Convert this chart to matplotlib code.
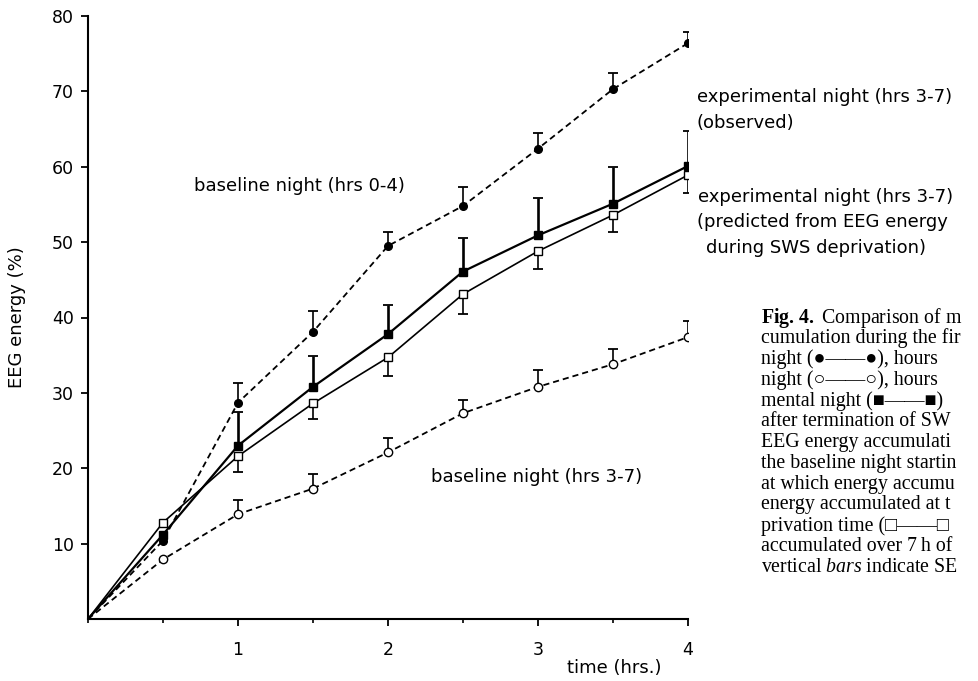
import matplotlib
matplotlib.use("Agg")
import matplotlib.pyplot as plt
from matplotlib.ticker import MultipleLocator

# cumulative EEG energy (%) vs time (hrs)
hours = [0, 0.5, 1, 1.5, 2, 2.5, 3, 3.5, 4]
base_0_4 = [0, 10.4, 28.7, 38.1, 49.5, 54.8, 62.4, 70.3, 76.4]
base_0_4_se = [0, 0, 2.6, 2.7, 1.9, 2.5, 2.1, 2.1, 1.5]
exp_obs = [0, 11.2, 23.0, 30.8, 37.8, 46.1, 50.9, 55.1, 60.1]
exp_obs_se = [0, 0, 4.4, 4.1, 3.8, 4.4, 4.9, 4.9, 4.7]
exp_pred = [0, 12.8, 21.6, 28.6, 34.7, 43.1, 48.8, 53.6, 58.9]
exp_pred_se = [0, 0, 2.1, 2.0, 2.4, 2.7, 2.4, 2.2, 2.4]
base_3_7 = [0, 7.9, 13.9, 17.3, 22.1, 27.3, 30.8, 33.8, 37.4]
base_3_7_se = [0, 0, 1.9, 1.9, 1.9, 1.8, 2.2, 2.0, 2.2]

y_ticks = [10, 20, 30, 40, 50, 60, 70, 80]
x_ticks = [1, 2, 3, 4]

caption = [
    r"$\mathbf{Fig.\,4.}$ Comparison of m",
    "cumulation during the fir",
    "night (\u25cf\u2014\u2014\u25cf), hours",
    "night (\u25cb\u2014\u2014\u25cb), hours",
    "mental night (\u25a0\u2014\u2014\u25a0)",
    "after termination of SW",
    "EEG energy accumulati",
    "the baseline night startin",
    "at which energy accumu",
    "energy accumulated at t",
    "privation time (\u25a1\u2014\u2014\u25a1",
    "accumulated over 7\u2009h of",
    r"vertical $\mathit{bars}$ indicate SE",
]

plt.rcParams["mathtext.fontset"] = "custom"
plt.rcParams["mathtext.rm"] = "Liberation Serif"
plt.rcParams["mathtext.bf"] = "Liberation Serif:bold"
plt.rcParams["mathtext.it"] = "Liberation Serif:italic"

DASH = (0, (3.4, 2.2))


def draw(ax, y, se, marker, face, ls, lw, up=True, bar_lw=1.2, ms=5.5):
    ax.plot(hours, y, color="black", ls=ls, lw=lw, zorder=2)
    ax.plot(hours[1:], y[1:], ls="none", marker=marker, ms=ms,
            mfc=face, mec="black", mew=1.0, zorder=4)
    xs = [h for h, s in zip(hours, se) if s > 0]
    y0 = [v for v, s in zip(y, se) if s > 0]
    ends = [v + s if up else v - s for v, s in zip(y, se) if s > 0]
    ax.vlines(xs, y0, ends, color="black", lw=bar_lw, zorder=3)
    ax.plot(xs, ends, ls="none", marker="_", ms=6.5, mew=1.3,
            color="black", zorder=3)


fig = plt.figure(figsize=(9.79, 6.81), dpi=100, facecolor="white")
ax = fig.add_axes([88 / 979, 1 - 619 / 681, 600 / 979, 603 / 681])

draw(ax, base_0_4, base_0_4_se, "o", "black", DASH, 1.3)
draw(ax, base_3_7, base_3_7_se, "o", "white", DASH, 1.3, ms=6)
draw(ax, exp_pred, exp_pred_se, "s", "white", "-", 1.2, up=False)
draw(ax, exp_obs, exp_obs_se, "s", "black", "-", 1.6, bar_lw=1.9)

ax.set_xlim(0, 4)
ax.set_ylim(0, 80)
ax.set_xticks(x_ticks)
ax.xaxis.set_minor_locator(MultipleLocator(0.5))
ax.set_yticks(y_ticks)
for s in ("top", "right"):
    ax.spines[s].set_visible(False)
for s in ("left", "bottom"):
    ax.spines[s].set_linewidth(1.5)
ax.tick_params(axis="both", which="major", direction="out", width=1.3,
               labelsize=12.5)
ax.tick_params(axis="y", length=5, pad=5)
ax.tick_params(axis="x", length=5, pad=11)
ax.tick_params(axis="x", which="minor", direction="out", length=3, width=1.2)

sans = dict(fontsize=13, family="DejaVu Sans", color="black", va="center")
ax.text(1.41, 57.4, "baseline night (hrs 0-4)", ha="center", **sans)
ax.text(2.99, 18.9, "baseline night (hrs 3-7)", ha="center", **sans)
ax.text(4.06, 69.2, "experimental night (hrs 3-7)", ha="left", **sans)
ax.text(4.06, 65.8, "(observed)", ha="left", **sans)
ax.text(4.07, 56.0, "experimental night (hrs 3-7)", ha="left", **sans)
ax.text(4.06, 52.7, "(predicted from EEG energy", ha="left", **sans)
ax.text(4.12, 49.2, "during SWS deprivation)", ha="left", **sans)

fig.text(17 / 979, 1 - 317 / 681, "EEG energy (%)", rotation=90,
         ha="center", va="center", fontsize=13, family="DejaVu Sans")
fig.text(614 / 979, 1 - 668 / 681, "time (hrs.)", ha="center",
         va="center", fontsize=13, family="DejaVu Sans")

for i, line in enumerate(caption):
    fig.text(761 / 979, 1 - (317.7 + i * 20.8) / 681, line, ha="left",
             va="center", fontsize=14.3,
             family=["Liberation Serif", "DejaVu Sans"])

fig.savefig("out.png", dpi=100, facecolor="white")
